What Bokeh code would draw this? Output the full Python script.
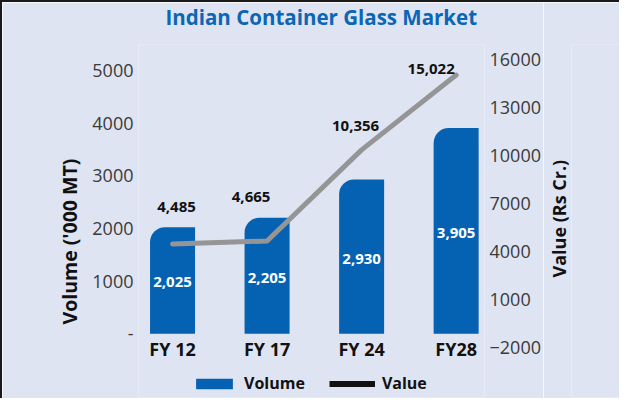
from bokeh.plotting import figure
from bokeh.layouts import row
from bokeh.models import (Range1d, LinearAxis, FixedTicker, Legend, LegendItem,
                          ColumnDataSource, Title)
from bokeh.core.properties import value
from bokeh.embed import file_html
from bokeh.resources import INLINE

# ---------------- data ----------------
categories = ["FY 12", "FY 17", "FY 24", "FY28"]
volume = [2025, 2205, 2930, 3905]            # '000 MT
value_rs = [4485, 4665, 10356, 15022]        # Rs Cr.
left_ticks = [0, 1000, 2000, 3000, 4000, 5000]
right_ticks = [-2000, 1000, 4000, 7000, 10000, 13000, 16000]

# ---------------- style ----------------
BG = "#DFE4F2"
BLUE = "#0562B2"
TITLE_BLUE = "#0B66B5"
GREY = "#959595"
FONT = "Open Sans"
BORDER = "2px solid #1a1a1a"
# label nudges (pixels) for the value labels
label_dx = [4, -16, -6, -25]
label_dy = [-37, -44, -24, -6]

xs = list(range(len(categories)))

p = figure(width=543, height=398, output_backend="svg", toolbar_location=None,
           x_range=Range1d(-0.36, 3.30), y_range=Range1d(-1208, 5491),
           min_border_left=136, min_border_right=61, min_border_top=40,
           min_border_bottom=3, background_fill_color=BG, border_fill_color=BG,
           outline_line_color=None)
p.styles = {"border-top": BORDER, "border-left": BORDER}
p.grid.visible = False
p.extra_y_ranges = {"value": Range1d(-5103, 16931)}

# title (a thin spacer keeps it off the plot area)
p.add_layout(Title(text=" ", text_font_size="1px", standoff=9), "above")
p.title = Title(text="Indian Container Glass Market", align="left", offset=27,
                vertical_align="top", standoff=0,
                text_font=FONT, text_font_size="20.5px", text_font_style="bold",
                text_color=TITLE_BLUE)

# x axis: category names drawn just under the bars
p.xaxis.visible = False
p.text(x=xs, y=[0] * len(xs), text=categories, y_offset=15,
       text_align="center", text_baseline="middle", text_color="#111111",
       text_font=value(FONT), text_font_style="bold", text_font_size="18px")

# left axis
ya = p.yaxis[0]
ya.ticker = FixedTicker(ticks=left_ticks)
ya.major_label_overrides = {0: "-"}
ya.axis_line_color = None
ya.major_tick_line_color = None
ya.minor_tick_line_color = None
ya.major_tick_out = 0
ya.major_tick_in = 0
ya.major_label_standoff = 5
ya.major_label_text_font = FONT
ya.major_label_text_font_size = "18px"
ya.major_label_text_color = "#3a3a3a"

p.add_layout(Title(text="Volume ('000 MT)", align="left", offset=73,
                   text_font=FONT, text_font_size="19.5px", text_font_style="bold",
                   text_color="#111111", standoff=14), "left")

# right axis
ra = LinearAxis(y_range_name="value", ticker=FixedTicker(ticks=right_ticks))
ra.axis_line_color = None
ra.major_tick_line_color = None
ra.minor_tick_line_color = None
ra.major_tick_out = 0
ra.major_tick_in = 0
ra.major_label_standoff = 5
ra.major_label_text_font = FONT
ra.major_label_text_font_size = "18px"
ra.major_label_text_color = "#3a3a3a"
p.add_layout(ra, "right")

# bars
bars = p.vbar(x=xs, top=volume, bottom=0, width=0.476, fill_color=BLUE,
              line_color=None, border_radius=(15, 0, 0, 0))

# line
line = p.line(xs, value_rs, y_range_name="value", line_color=GREY, line_width=5,
              line_cap="round", line_join="round")
legend_line = p.line(xs, value_rs, y_range_name="value", line_color="#111111",
                     line_width=6, visible=False)

# volume labels inside bars
p.text(x=xs, y=[v / 2 for v in volume], text=[f"{v:,}" for v in volume],
       text_align="center", text_baseline="middle", text_color="white",
       text_font=value(FONT), text_font_style="bold", text_font_size="15px",
       y_offset=2)

# value labels
src = ColumnDataSource(dict(x=xs, y=value_rs, t=[f"{v:,}" for v in value_rs],
                            dx=label_dx, dy=label_dy))
p.text(x="x", y="y", text="t", x_offset="dx", y_offset="dy", source=src,
       y_range_name="value", text_align="center", text_baseline="middle",
       text_color="#111111", text_font=value(FONT), text_font_style="bold",
       text_font_size="15px")

legend = Legend(items=[LegendItem(label="Volume", renderers=[bars]),
                       LegendItem(label="Value", renderers=[legend_line])],
                orientation="horizontal", location=(53, 3),
                glyph_width=46, glyph_height=13, label_standoff=7, spacing=24,
                padding=0, margin=0, border_line_color=None,
                background_fill_alpha=0, label_text_font=FONT,
                label_text_font_size="16px", label_text_font_style="bold",
                label_text_color="#111111")
p.add_layout(legend)

# narrow strip on the right that carries the right-hand axis title
p2 = figure(width=76, height=398, output_backend="svg", toolbar_location=None,
            x_range=Range1d(0, 1), y_range=Range1d(0, 1),
            x_axis_type=None, y_axis_type=None,
            min_border_left=19, min_border_right=0, min_border_top=40,
            min_border_bottom=3, background_fill_color=BG, border_fill_color=BG,
            outline_line_color=None)
p2.styles = {"border-top": BORDER}
p2.grid.visible = False
p2.add_layout(Title(text="Value (Rs Cr.)", align="left", offset=120,
                    text_font=FONT, text_font_size="18px", text_font_style="bold",
                    text_color="#111111", standoff=2), "left")

layout = row(p, p2, spacing=0)
open("out.html", "w").write(file_html(layout, INLINE))
